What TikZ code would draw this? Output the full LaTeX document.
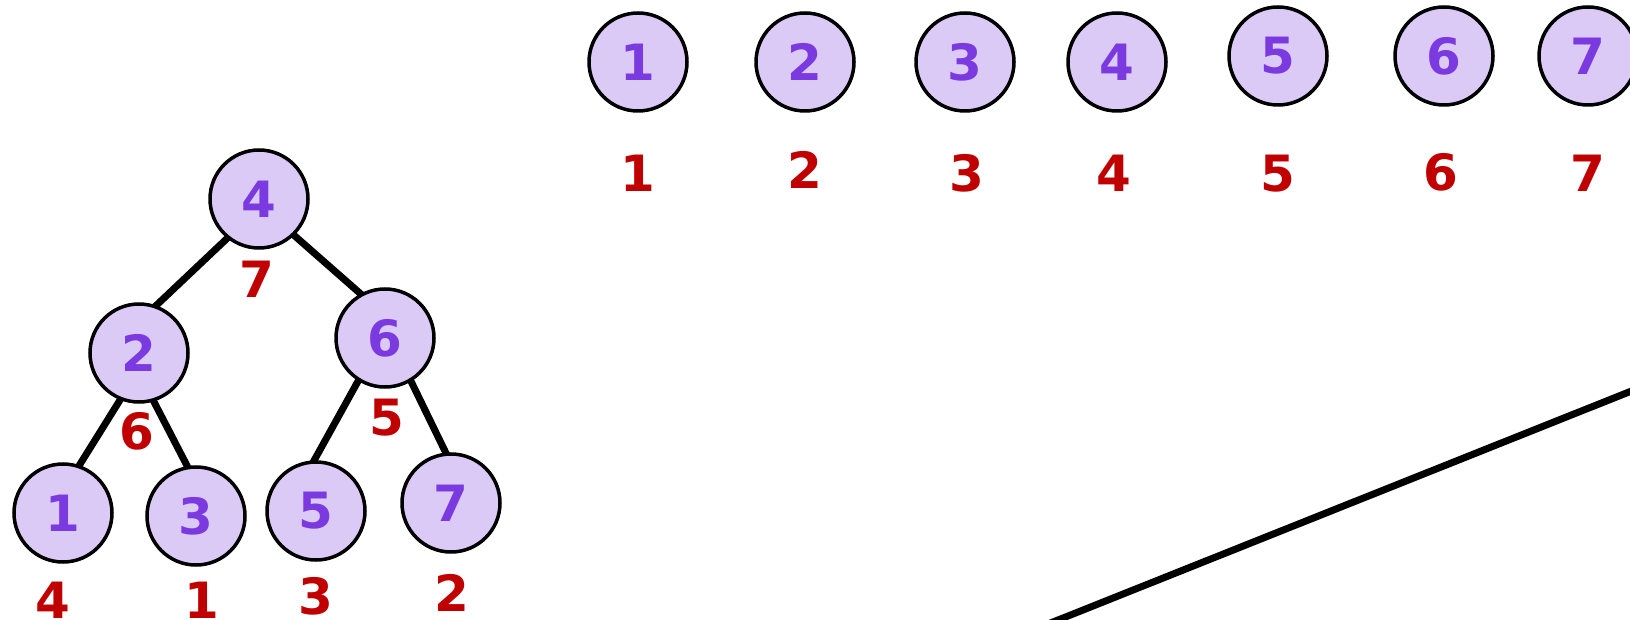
\documentclass[tikz,border=0pt]{standalone}
\usepackage{fontspec}
\setmainfont{DejaVu Sans}
\usetikzlibrary{backgrounds}
\definecolor{nodefill}{HTML}{DCCAF6}
\definecolor{nodetext}{HTML}{7B3AE0}
\definecolor{labred}{HTML}{C00000}
\begin{document}
\begin{tikzpicture}[x=1pt,y=-1pt,
  vert/.style={circle,draw=black,line width=3.5pt,fill=nodefill,minimum size=98pt,inner sep=0pt,
    text=nodetext,font=\fontsize{50}{60}\selectfont\bfseries},
  lab/.style={inner sep=0pt,text=labred,font=\fontsize{50}{60}\selectfont\bfseries},
  edge/.style={line width=7pt},
  treeedge/.style={edge,shorten <=-6pt,shorten >=-6pt}]
\useasboundingbox (0,0) rectangle (1630,620);
% tree
\node[vert] (r4) at (259,199) {4};
\node[vert] (t2) at (139,353) {2};
\node[vert] (t6) at (385,338) {6};
\node[vert] (t1) at (63,513) {1};
\node[vert] (t3) at (196,516) {3};
\node[vert] (t5) at (316,511) {5};
\node[vert] (t7) at (451,503) {7};
\begin{scope}[on background layer]
\draw[treeedge] (r4.231) -- (t2.70);
\draw[treeedge] (r4.314) -- (t6.119);
\draw[treeedge] (t2.248) -- (t1.71);
\draw[treeedge] (t2.287) -- (t3.100);
\draw[treeedge] (t6.238) -- (t5.92);
\draw[treeedge] (t6.301) -- (t7.96);
\end{scope}
\node[lab] (lr4) at (257,279) {7};
\node[lab] (lt2) at (137,431) {6};
\node[lab] (lt6) at (387,418) {5};
\node[lab] (lt1) at (53,600) {4};
\node[lab] (lt3) at (202,600) {1};
\node[lab] (lt5) at (316,596) {3};
\node[lab] (lt7) at (452,593) {2};
% top row
\node[vert] (a1) at (638,62) {1};
\node[vert] (a2) at (805,62) {2};
\node[vert] (a3) at (965,62) {3};
\node[vert] (a4) at (1117,62) {4};
\node[vert] (a5) at (1278,56) {5};
\node[vert] (a6) at (1444,56) {6};
\node[vert] (a7) at (1588,56) {7};
\node[lab] (b1) at (638,173) {1};
\node[lab] (b2) at (805,170) {2};
\node[lab] (b3) at (967,173) {3};
\node[lab] (b4) at (1114,173) {4};
\node[lab] (b5) at (1278,174) {5};
\node[lab] (b6) at (1441,172) {6};
\node[lab] (b7) at (1588,173) {7};
% long line
\coordinate (p1) at (1048,624);
\coordinate (p2) at (1634,390);
\draw[edge] (p1) -- (p2);
\end{tikzpicture}
\end{document}
